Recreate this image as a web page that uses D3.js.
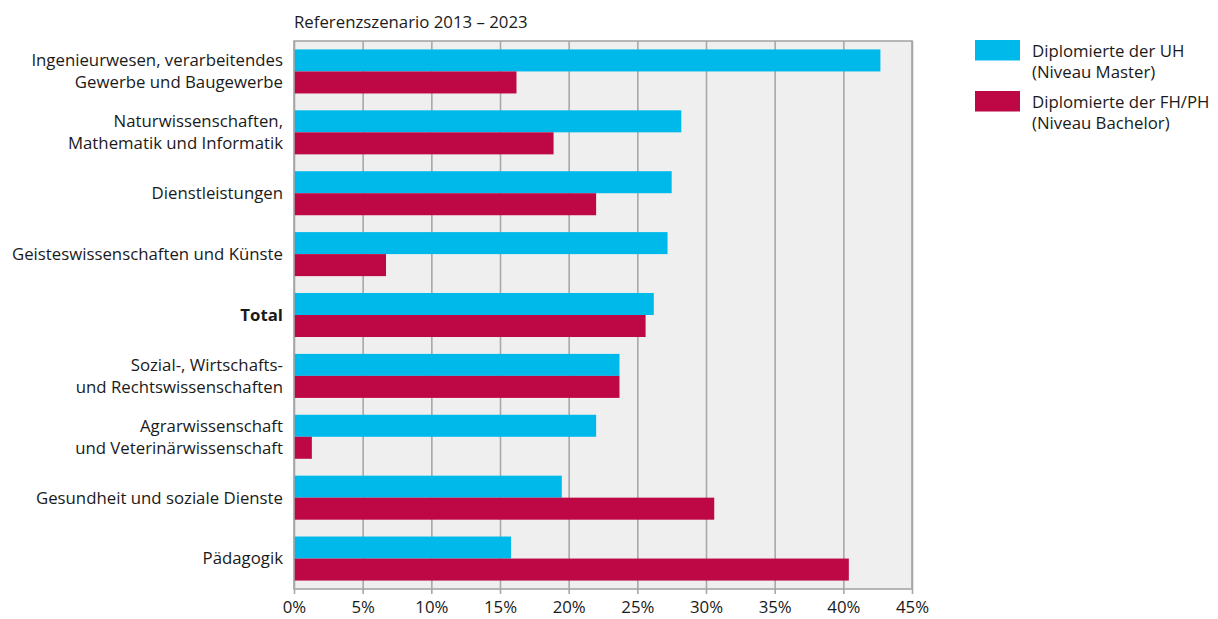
<!DOCTYPE html>
<html>
<head>
<meta charset="utf-8">
<script src="https://cdn.jsdelivr.net/npm/d3@7"></script>
<style>
  html, body { margin: 0; padding: 0; background: #ffffff; }
  svg { display: block; }
  text { font-family: "Open Sans", "DejaVu Sans", sans-serif; fill: #1a1a1a; }
</style>
</head>
<body>
<svg id="chart" width="1218" height="619"></svg>
<script>
// Fields of study, top to bottom (each entry = lines of the label)
const categories = [
  ["Ingenieurwesen, verarbeitendes", "Gewerbe und Baugewerbe"],
  ["Naturwissenschaften,", "Mathematik und Informatik"],
  ["Dienstleistungen"],
  ["Geisteswissenschaften und Künste"],
  ["Total"],
  ["Sozial-, Wirtschafts-", "und Rechtswissenschaften"],
  ["Agrarwissenschaft", "und Veterinärwissenschaft"],
  ["Gesundheit und soziale Dienste"],
  ["Pädagogik"]
];

// Growth in percent, scenario 2013–2023
const uhMaster = [42.7, 28.2, 27.5, 27.2, 26.2, 23.7, 22.0, 19.5, 15.8];
const fhBachelor = [16.2, 18.9, 22.0, 6.7, 25.6, 23.7, 1.3, 30.6, 40.4];

const seriesNames = [
  ["Diplomierte der UH", "(Niveau Master)"],
  ["Diplomierte der FH/PH", "(Niveau Bachelor)"]
];
const seriesColors = ["#00b9eb", "#be0745"];

const tickValues = [0, 5, 10, 15, 20, 25, 30, 35, 40, 45];
const title = "Referenzszenario 2013 \u2013 2023";

const svg = d3.select("#chart");
const plot = { left: 294, right: 912, top: 41, bottom: 589 };
const fontSize = "16.8px";

const catKeys = categories.map(c => c.join(" "));
const x = d3.scaleLinear().domain([0, 45]).range([plot.left, plot.right]);
const y = d3.scaleBand().domain(catKeys).range([plot.top, plot.bottom])
  .paddingInner(0.277).paddingOuter(0.1385);
const ySub = d3.scaleBand().domain([0, 1]).range([0, y.bandwidth()]);

// plot background
svg.append("rect")
  .attr("x", plot.left).attr("y", plot.top)
  .attr("width", plot.right - plot.left).attr("height", plot.bottom - plot.top)
  .attr("fill", "#efefef");

// vertical grid lines with ticks below the frame
const xAxis = d3.axisBottom(x)
  .tickValues(tickValues)
  .tickFormat(d => d + "%");
const gx = svg.append("g")
  .attr("transform", `translate(0,${plot.bottom})`)
  .call(xAxis);
gx.select(".domain").remove();
gx.selectAll(".tick line")
  .attr("stroke", "#a8a8a8").attr("stroke-width", 1.6)
  .attr("y1", 5).attr("y2", -(plot.bottom - plot.top));
gx.selectAll(".tick text")
  .attr("y", 24).attr("dy", 0)
  .style("font-size", fontSize)
  .style("font-family", "'Open Sans', 'DejaVu Sans', sans-serif")
  .attr("fill", "#1a1a1a");

// bars
const rows = catKeys.map((k, i) => ({ key: k, values: [uhMaster[i], fhBachelor[i]] }));
const groups = svg.append("g").selectAll("g")
  .data(rows).join("g")
  .attr("transform", d => `translate(0,${y(d.key)})`);
groups.selectAll("rect")
  .data(d => d.values.map((v, s) => ({ v, s })))
  .join("rect")
  .attr("x", x(0))
  .attr("y", d => ySub(d.s))
  .attr("width", d => x(d.v) - x(0))
  .attr("height", ySub.bandwidth())
  .attr("fill", d => seriesColors[d.s]);

// frame
svg.append("rect")
  .attr("x", plot.left).attr("y", plot.top)
  .attr("width", plot.right - plot.left).attr("height", plot.bottom - plot.top)
  .attr("fill", "none").attr("stroke", "#a6a6a6").attr("stroke-width", 1.6);

// category labels
const lineH = 21.7;
const labels = svg.append("g").selectAll("text")
  .data(categories).join("text")
  .attr("text-anchor", "end")
  .style("font-size", fontSize)
  .style("font-weight", d => d[0] === "Total" ? "bold" : "normal")
  .attr("transform", (d, i) => `translate(${plot.left - 11},${y(catKeys[i]) + y.bandwidth() / 2})`);
labels.selectAll("tspan")
  .data(d => d.map((t, j) => ({ t, j, n: d.length })))
  .join("tspan")
  .attr("x", 0)
  .attr("y", d => (d.j - (d.n - 1) / 2) * lineH)
  .attr("dy", "0.35em")
  .text(d => d.t);

// title
svg.append("text")
  .attr("x", plot.left).attr("y", 28)
  .style("font-size", fontSize)
  .text(title);

// legend
const legend = svg.append("g").attr("transform", "translate(975,40)");
const items = legend.selectAll("g").data(seriesNames).join("g")
  .attr("transform", (d, i) => `translate(0,${i * 51})`);
items.append("rect")
  .attr("width", 45).attr("height", 20.5)
  .attr("fill", (d, i) => seriesColors[i]);
items.append("text")
  .style("font-size", fontSize)
  .selectAll("tspan").data(d => d).join("tspan")
  .attr("x", 57)
  .attr("y", (d, j) => 11.5 + j * 21)
  .attr("dy", "0.35em")
  .text(d => d);
</script>
</body>
</html>
